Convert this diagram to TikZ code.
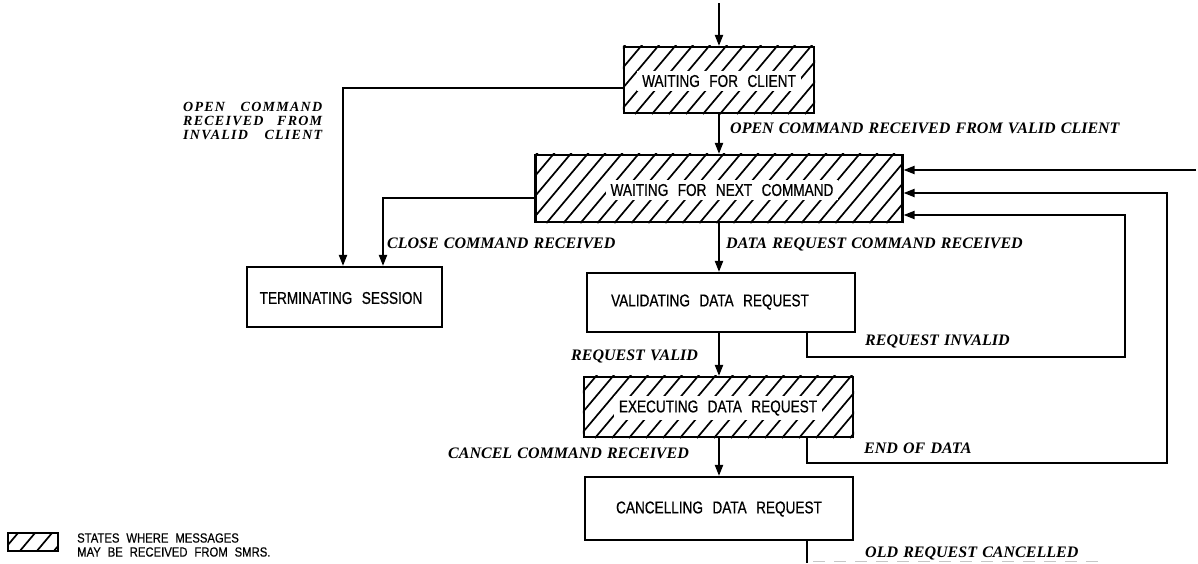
\documentclass[tikz,border=0pt]{standalone}
\usepackage{fontspec}
\setmainfont{Liberation Serif}
\newfontfamily\boxfont[FakeStretch=0.80,FakeBold=0.6,WordSpace=2.5]{Liberation Sans}
\newfontfamily\legfont[FakeStretch=0.85,FakeBold=0.4,WordSpace=2.2]{Liberation Sans}
\newfontfamily\lblfont[WordSpace=1.3]{Liberation Serif}
\newfontfamily\lblwide[LetterSpace=9]{Liberation Serif}
\usetikzlibrary{arrows.meta,calc}
\tikzset{
  statebox/.style={draw, line width=2.2pt, inner sep=0pt},
  boxtext/.style={font=\boxfont\fontsize{17}{19}\selectfont, inner xsep=5pt, inner ysep=4pt},
  hatchtext/.style={boxtext, fill=white},
  lbl/.style={font=\lblfont\bfseries\itshape\fontsize{16}{16}\selectfont, inner sep=0pt, anchor=base west},
  conn/.style={line width=2pt, -{Triangle[length=11pt,width=8pt]}},
  plainline/.style={line width=2pt},
  hatchline/.style={line width=1.7pt},
}
\newcommand{\hatchbox}[2]{%
  \begin{scope}
    \clip (#1.south west) rectangle (#1.north east);
    \foreach \k in {0,...,#2}
      \draw[hatchline] ($(#1.south west)+(\k*17-90,0)$) -- ++(90,-107);
  \end{scope}}
\begin{document}
\begin{tikzpicture}[x=1pt,y=-1pt]
\useasboundingbox (0,0) rectangle (1198,563);
% boxes
\node[statebox, minimum width=190pt, minimum height=66pt] (wfc) at (719,80) {};
\node[statebox, minimum width=367pt, minimum height=67pt] (wnc) at (719,188.5) {};
\node[statebox, minimum width=195pt, minimum height=60pt] (ts) at (344.5,297) {};
\node[statebox, minimum width=268pt, minimum height=59pt] (vdr) at (721,302.5) {};
\node[statebox, minimum width=269pt, minimum height=60pt] (edr) at (718.5,407) {};
\node[statebox, minimum width=268pt, minimum height=63pt] (cdr) at (719,508.5) {};
\node[statebox, line width=1.8pt, minimum width=50pt, minimum height=18pt] (leg) at (33,542) {};
% hatching
\hatchbox{wfc}{17}
\hatchbox{wnc}{28}
\hatchbox{edr}{22}
\hatchbox{leg}{9}
% box texts
\node[hatchtext] (wfct) at (719,81) {WAITING FOR CLIENT};
\node[hatchtext] (wnct) at (722,190) {WAITING FOR NEXT COMMAND};
\node[boxtext] (tst) at (341,298) {TERMINATING SESSION};
\node[boxtext] (vdrt) at (710,302) {VALIDATING DATA REQUEST};
\node[hatchtext] (edrt) at (718,408) {EXECUTING DATA REQUEST};
\node[boxtext] (cdrt) at (719,509) {CANCELLING DATA REQUEST};
% coordinates
\coordinate (sp) at (719,0);
\coordinate (top) at (719,3);
\coordinate (lb) at (343,88);
\coordinate (cb) at (383,198);
\coordinate (ri1) at (807,357);
\coordinate (ri2) at (1125,357);
\coordinate (ri3) at (1125,215);
\coordinate (ed1) at (807,463);
\coordinate (ed2) at (1167,463);
\coordinate (ed3) at (1167,193);
\coordinate (tr) at (1196,170);
\coordinate (orc) at (807,563);
\coordinate (da) at (813,561.5);
\coordinate (db) at (1100,561.5);
% connectors
\draw[conn] (top) -- (wfc.north);
\draw[conn] (wfc.south -| sp) -- (wnc.north -| sp);
\draw[conn] (wnc.south -| sp) -- (vdr.north -| sp);
\draw[conn] (vdr.south -| sp) -- (edr.north -| sp);
\draw[conn] (edr.south -| sp) -- (cdr.north -| sp);
\draw[conn] (wfc.west |- lb) -- (lb) -- (lb |- ts.north);
\draw[conn] (wnc.west |- cb) -- (cb) -- (cb |- ts.north);
\draw[conn] (vdr.south -| ri1) -- (ri1) -- (ri2) -- (ri3) -- (wnc.east |- ri3);
\draw[conn] (edr.south -| ed1) -- (ed1) -- (ed2) -- (ed3) -- (wnc.east |- ed3);
\draw[conn] (tr) -- (wnc.east |- tr);
\draw[plainline] (cdr.south -| orc) -- (orc);
\draw[gray!45, line width=1.5pt, dash pattern=on 12pt off 9pt] (da) -- (db);
% labels
\node[lbl] (lopen) at (730,133) {OPEN COMMAND RECEIVED FROM VALID CLIENT};
\node[lbl] (lclose) at (387,248) {CLOSE COMMAND RECEIVED};
\node[lbl] (ldata) at (726,248) {DATA REQUEST COMMAND RECEIVED};
\node[lbl] (lrinv) at (865,345) {REQUEST INVALID};
\node[lbl] (lrval) at (571,360) {REQUEST VALID};
\node[lbl] (leod) at (864,453) {END OF DATA};
\node[lbl] (lcancel) at (448,458) {CANCEL COMMAND RECEIVED};
\node[lbl] (lold) at (865,557) {OLD REQUEST CANCELLED};
\node[font=\lblwide\bfseries\itshape\fontsize{14}{14}\selectfont, inner sep=0pt, anchor=north west, align=left] (linv) at (183,102)
  {\makebox[139pt][s]{OPEN COMMAND}\\\makebox[139pt][s]{RECEIVED FROM}\\\makebox[139pt][s]{INVALID CLIENT}};
\node[font=\legfont\fontsize{13.3}{14}\selectfont, inner sep=0pt, anchor=west, align=left] (legt) at (77,545)
  {STATES WHERE MESSAGES\\MAY BE RECEIVED FROM SMRS.};
\end{tikzpicture}
\end{document}
